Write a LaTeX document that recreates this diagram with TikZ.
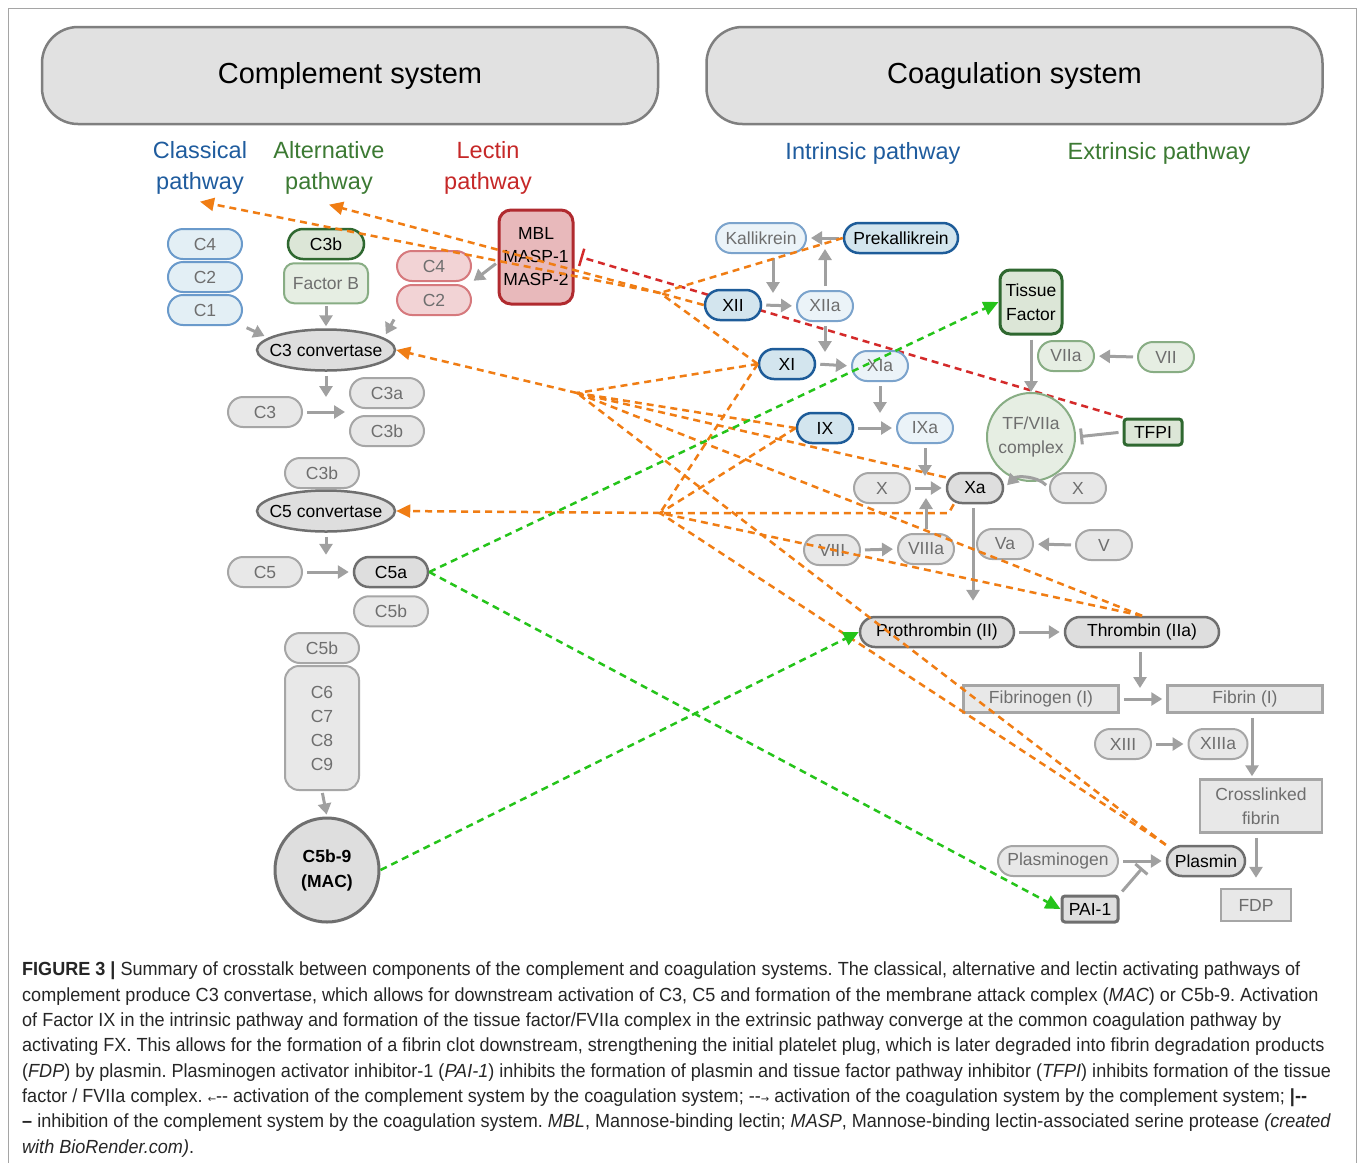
\documentclass[tikz,border=0pt]{standalone}
\usepackage{fontspec}
\setmainfont{Liberation Sans}
\newfontfamily\capfont[FakeStretch=0.95]{Liberation Sans}
\newfontfamily\arrowfont{DejaVu Sans}
\usetikzlibrary{positioning, calc, arrows.meta, backgrounds, shapes.geometric}

\definecolor{grayfill}{HTML}{E8E8E8}
\definecolor{grayline}{HTML}{A6A6A6}
\definecolor{graytext}{HTML}{6E6E6E}
\definecolor{darkfill}{HTML}{DEDEDE}
\definecolor{darkline}{HTML}{6F6F6F}
\definecolor{classfill}{HTML}{E3EFF5}
\definecolor{classline}{HTML}{6A9ACB}
\definecolor{intfill}{HTML}{D3E5EE}
\definecolor{intline}{HTML}{1E5C99}
\definecolor{intlfill}{HTML}{EBF3F8}
\definecolor{intlline}{HTML}{7BA3CC}
\definecolor{altfill}{HTML}{DCE6D7}
\definecolor{altline}{HTML}{2F6830}
\definecolor{altlfill}{HTML}{E6EEE3}
\definecolor{altlline}{HTML}{88AD84}
\definecolor{lectfill}{HTML}{F2D3D5}
\definecolor{lectline}{HTML}{D6797D}
\definecolor{mblfill}{HTML}{E8B9BB}
\definecolor{mblline}{HTML}{B02A2F}
\definecolor{headfill}{HTML}{E1E1E1}
\definecolor{headline}{HTML}{7F7F7F}
\definecolor{orangec}{HTML}{F07D14}
\definecolor{redc}{HTML}{D42A2A}
\definecolor{greenc}{HTML}{25C41A}
\definecolor{arrowgray}{HTML}{A0A0A0}
\definecolor{classblue}{HTML}{1F5C9E}
\definecolor{altgreen}{HTML}{3C7A33}
\definecolor{lectred}{HTML}{C62828}

\newcommand{\boxfont}{\fontsize{17.5}{23}\selectfont}
\newcommand{\headfont}{\fontsize{29}{34}\selectfont}
\newcommand{\pathfont}{\fontsize{23.5}{31}\selectfont}
\newcommand{\capsize}{\capfont\fontsize{19}{25.3}\selectfont\frenchspacing}
\newcommand{\smallarrow}[1]{{\arrowfont\fontsize{10}{10}\selectfont #1}}

\tikzset{pill/.style={draw, rounded corners=15pt, minimum width=74pt, minimum height=30pt, line width=2pt, inner sep=0pt, font=\boxfont, align=center},
graynode/.style={pill, fill=grayfill, draw=grayline, text=graytext},
darknode/.style={pill, fill=darkfill, draw=darkline, text=black, line width=2.5pt},
short/.style={minimum width=56pt},
classnode/.style={pill, fill=classfill, draw=classline, text=graytext},
intdark/.style={pill, short, fill=intfill, draw=intline, text=black, line width=2.5pt},
intlight/.style={pill, short, fill=intlfill, draw=intlline, text=graytext},
altdark/.style={pill, fill=altfill, draw=altline, text=black, line width=2.5pt},
altlight/.style={pill, short, fill=altlfill, draw=altlline, text=graytext},
lectnode/.style={pill, fill=lectfill, draw=lectline, text=graytext},
convnode/.style={ellipse, draw=darkline, fill=darkfill, line width=2.5pt, minimum width=138pt, minimum height=41pt, inner xsep=-13pt, inner ysep=0pt, font=\boxfont},
fibnode/.style={draw=grayline, fill=grayfill, text=graytext, line width=2.5pt, minimum width=155pt, minimum height=27pt, inner sep=0pt, font=\boxfont, align=center},
header/.style={draw=headline, fill=headfill, line width=2.5pt, rounded corners=36pt, minimum width=616pt, minimum height=97pt, font=\headfont},
pathlabel/.style={font=\pathfont, align=center, inner sep=2pt},
arr/.style={draw=arrowgray, line width=3pt, -{Triangle[length=11pt,width=13pt]}, shorten <=4pt, shorten >=4pt},
grayinhib/.style={draw=arrowgray, line width=3pt, -{Bar[width=16pt,line width=3pt]}, shorten <=4pt, shorten >=4pt},
orangeline/.style={draw=orangec, line width=2.5pt, dash pattern=on 7pt off 5pt},
orangearrow/.style={orangeline, -{Triangle[length=14pt,width=13pt,fill=orangec]}},
greenarrow/.style={draw=greenc, line width=2.5pt, dash pattern=on 7pt off 5pt, -{Triangle[length=15pt,width=14pt,fill=greenc]}},
redinhib/.style={draw=redc, line width=2.5pt, dash pattern=on 7pt off 5pt, -{Bar[width=18pt,line width=2.5pt]}}
}

\begin{document}
\begin{tikzpicture}[x=1pt,y=-1pt]
\begin{pgfonlayer}{background}
\fill[white] (0,0) rectangle (1358,1163);
\end{pgfonlayer}
\useasboundingbox (0,0) rectangle (1358,1163);
\draw[headline!70, line width=1pt] (8,1163) |- (1356,8) -- (1356,1163);

% headers
\node[header] (compsys) at (350,75.5) {Complement system};
\node[header] (coagsys) at (1014.5,75.5) {Coagulation system};
\node[pathlabel, text=classblue] (classical) at (200,168) {Classical\\pathway};
\node[pathlabel, text=altgreen] (alternative) at (329,168) {Alternative\\pathway};
\node[pathlabel, text=lectred] (lectin) at (488,168) {Lectin\\pathway};
\node[pathlabel, text=classblue] (intrinsic) at (873,153) {Intrinsic pathway};
\node[pathlabel, text=altgreen] (extrinsic) at (1159,153) {Extrinsic pathway};

% complement side
\node[classnode] (cc4) at (205,244) {C4};
\node[classnode, below=1pt of cc4] (cc2) {C2};
\node[classnode, below=1pt of cc2] (cc1) {C1};
\node[altdark, minimum width=76pt] (ac3b) at (326,244) {C3b};
\node[altlight, below=2pt of ac3b, minimum width=84pt, minimum height=40pt, rounded corners=10pt] (afb) {Factor B};
\node[lectnode] (lc4) at (434,266) {C4};
\node[lectnode, below=2pt of lc4] (lc2) {C2};
\node[pill, fill=mblfill, draw=mblline, line width=3pt, minimum width=74pt, minimum height=94pt, rounded corners=12pt] (mbl) at (536,257) {MBL\\MASP-1\\MASP-2};
\node[convnode] (c3conv) at (326,350) {C3 convertase};
\node[graynode] (c3) at (265,412) {C3};
\node[graynode] (c3a) at (387,393) {C3a};
\node[graynode, below=6pt of c3a] (c3b) {C3b};
\node[graynode] (c3bb) at (322,473) {C3b};
\node[convnode] (c5conv) at (326,511) {C5 convertase};
\node[graynode] (c5) at (265,572) {C5};
\node[darknode] (c5a) at (391,572) {C5a};
\node[graynode, below=7pt of c5a] (c5b) {C5b};
\node[graynode] (c5bb) at (322,648) {C5b};
\node[graynode, below=1pt of c5bb, minimum height=124pt, rounded corners=14pt, font=\fontsize{17.5}{24}\selectfont] (c69) {C6\\C7\\C8\\C9};
\node[circle, draw=darkline, fill=darkfill, line width=3pt, minimum size=104pt, inner sep=0pt, align=center, font=\fontsize{17.5}{25}\selectfont\bfseries] (mac) at (327,870) {C5b-9\\(MAC)};

% coagulation side
\node[intlight, minimum width=90pt] (kal) at (761,238) {Kallikrein};
\node[intdark, minimum width=114pt] (prekal) at (901,238) {Prekallikrein};
\node[intdark] (xii) at (733,305) {XII};
\node[intlight] (xiia) at (825,306) {XIIa};
\node[intdark] (xi) at (787,364) {XI};
\node[intlight] (xia) at (880,366) {XIa};
\node[intdark] (ix) at (825,428) {IX};
\node[intlight] (ixa) at (925,428) {IXa};
\node[graynode, short] (x) at (882,488) {X};
\node[darknode, short] (xa) at (975,488) {Xa};
\node[graynode, short] (xr) at (1078,488) {X};
\node[graynode, short] (viii) at (832,550) {VIII};
\node[graynode, short] (viiia) at (926,549) {VIIIa};
\node[graynode, short] (va) at (1005,544) {Va};
\node[graynode, short] (v) at (1104,545) {V};
\node[darknode, minimum width=154pt] (proth) at (937,632) {Prothrombin (II)};
\node[darknode, minimum width=154pt] (thromb) at (1142,632) {Thrombin (IIa)};
\node[fibnode] (fibrinogen) at (1041,699) {Fibrinogen (I)};
\node[fibnode] (fibrin) at (1245,699) {Fibrin (I)};
\node[graynode, short] (xiii) at (1123,744) {XIII};
\node[graynode, short, minimum width=59pt] (xiiia) at (1218,744) {XIIIa};
\node[fibnode, minimum width=122pt, minimum height=53pt, font=\fontsize{17.5}{24}\selectfont] (xlink) at (1261,806) {Crosslinked\\fibrin};
\node[graynode, minimum width=120pt] (plasminogen) at (1058,861) {Plasminogen};
\node[darknode, minimum width=78pt] (plasmin) at (1206,861) {Plasmin};
\node[darknode, short, minimum height=26pt, rounded corners=3pt, line width=3pt] (pai) at (1090,909) {PAI-1};
\node[fibnode, minimum width=70pt, minimum height=32pt] (fdp) at (1256,905) {FDP};
\node[altdark, minimum width=62pt, minimum height=64pt, rounded corners=10pt, line width=3pt, font=\fontsize{17.5}{24}\selectfont] (tf) at (1031,302) {Tissue\\Factor};
\node[altlight] (viia) at (1066,356) {VIIa};
\node[altlight] (vii) at (1166,357) {VII};
\node[circle, draw=altlline, fill=altlfill, line width=2pt, text=graytext, minimum size=88pt, inner sep=0pt, align=center, font=\fontsize{17.5}{24}\selectfont] (tfvii) at (1031,437) {TF/VIIa\\complex};
\node[altdark, minimum width=58pt, minimum height=26pt, rounded corners=3pt, line width=3pt] (tfpi) at (1153,432) {TFPI};

% caption
\node[anchor=north west, inner sep=0pt, align=left, font=\capsize, text=black!85] (caption) at (22,962) {%
{\bfseries FIGURE 3 |} Summary of crosstalk between components of the complement and coagulation systems. The classical, alternative and lectin activating pathways of\\
complement produce C3 convertase, which allows for downstream activation of C3, C5 and formation of the membrane attack complex (\textit{MAC}) or C5b-9. Activation\\
of Factor IX in the intrinsic pathway and formation of the tissue factor/FVIIa complex in the extrinsic pathway converge at the common coagulation pathway by\\
activating FX. This allows for the formation of a fibrin clot downstream, strengthening the initial platelet plug, which is later degraded into fibrin degradation products\\
(\textit{FDP}) by plasmin. Plasminogen activator inhibitor-1 (\textit{PAI-1}) inhibits the formation of plasmin and tissue factor pathway inhibitor (\textit{TFPI}) inhibits formation of the tissue\\
factor / FVIIa complex. \smallarrow{←}-{}- activation of the complement system by the coagulation system; -{}-\smallarrow{→} activation of the coagulation system by the complement system; {\bfseries |-{}-}\\
{\bfseries –} inhibition of the complement system by the coagulation system. \textit{MBL}, Mannose-binding lectin; \textit{MASP}, Mannose-binding lectin-associated serine protease \textit{(created}\\
\textit{with BioRender.com)}.};

% red inhibition behind the nodes
\begin{pgfonlayer}{background}
\draw[redinhib] (tfpi.north west) -- ([xshift=6pt]mbl.east);
\end{pgfonlayer}

% complement arrows
\draw[arr] (cc1.south east) -- (c3conv.168);
\draw[arr, shorten <=2pt, shorten >=2pt] (afb.south) -- (c3conv.north);
\draw[arr] (lc2.south west) -- (c3conv.12);
\draw[arr, shorten <=2pt, shorten >=2pt] (mbl.188) -- (lc4.south east);
\draw[arr, shorten >=12pt] (c3conv.south) -- (c3conv.south |- c3a.south);
\draw[arr] (c3.east) -- (c3.east -| c3a.west);
\draw[arr, shorten >=1pt] (c5conv.south) -- (c5conv.south |- c5a.north);
\draw[arr] (c5.east) -- (c5a.west);
\draw[arr, shorten <=2pt, shorten >=2pt] (c69.south) -- (mac.north);

% coagulation arrows
\draw[arr] (prekal.west) -- (kal.east);
\draw[arr, shorten >=12pt] ([xshift=12pt]kal.south) -- ([xshift=12pt]kal.south |- xii.east);
\draw[arr] (xii.east) -- (xiia.west);
\draw[arr, shorten >=11pt] (xiia.north) -- (xiia.north |- prekal.west);
\draw[arr, shorten >=12pt] (xiia.south) -- (xiia.south |- xi.east);
\draw[arr] (xi.east) -- (xia.west);
\draw[arr, shorten >=15pt] (xia.south) -- (xia.south |- ix.east);
\draw[arr] (ix.east) -- (ixa.west);
\draw[arr, shorten >=12pt] (ixa.south) -- (ixa.south |- x.east);
\draw[arr] (x.east) -- (xa.west);
\draw[arr] (xr.west) to[bend right=45] (xa.east);
\draw[arr] (viii.east) -- (viiia.west);
\draw[arr, shorten >=10pt] (viiia.north) -- (viiia.north |- x.east);
\draw[arr, shorten >=15pt] ([xshift=-2pt]xa.south) -- ([xshift=-2pt]xa.south |- proth.north);
\draw[arr] (v.west) -- (va.east);
\draw[arr] (proth.east) -- (thromb.west);
\draw[arr, shorten >=11pt] ([xshift=-2pt]thromb.south) -- ([xshift=-2pt]thromb.south |- fibrin.west);
\draw[arr] (fibrinogen.east) -- (fibrin.west);
\draw[arr, shorten >=2pt] ([xshift=7pt]fibrin.south) -- ([xshift=7pt]fibrin.south |- xlink.north);
\draw[arr] (xiii.east) -- (xiiia.west);
\draw[arr, shorten >=10pt] (xlink.south -| fdp.north) -- (fdp.north);
\draw[arr] (plasminogen.east) -- (plasmin.west);
\draw[grayinhib, shorten >=0pt] (pai.north east) -- ($(plasminogen.east)!0.5!(plasmin.west)+(0,7)$);
\draw[arr, shorten >=0pt] (tf.south) -- (tfvii.north);
\draw[arr] (vii.west) -- (viia.east);
\draw[grayinhib] (tfpi.west) -- (tfvii.east);

% crosstalk: coagulation to complement
\coordinate (ja) at (660,293);
\coordinate (jb) at (577,393);
\coordinate (jc) at (660,513);
\draw[orangeline] (prekal.west) -- (ja);
\draw[orangeline] (xii.west) -- (ja);
\draw[orangeline] (xi.west) -- (ja);
\draw[orangearrow] (ja) -- ([yshift=-5pt]classical.south);
\draw[orangearrow] (ja) -- ([yshift=-8pt]alternative.south);
\draw[orangeline] (xi.west) -- (jb);
\draw[orangeline] (ix.west) -- (jb);
\draw[orangeline] (xa.160) -- (jb);
\draw[orangeline] (thromb.north) -- (jb);
\draw[orangeline] (plasmin.north west) -- (jb);
\draw[orangearrow] (jb) -- (c3conv.east);
\draw[orangeline] (xi.west) -- (jc);
\draw[orangeline] (ix.west) -- (jc);
\draw[orangeline] ([xshift=8pt]xa.south west) -- ([xshift=3pt]jc -| xa.west) -- (jc);
\draw[orangeline] (thromb.north) -- (jc);
\draw[orangeline] (plasmin.north west) -- (jc);
\draw[orangearrow] (jc) -- (c5conv.east);

% crosstalk: complement to coagulation
\draw[greenarrow] (c5a.east) -- (tf.west);
\draw[greenarrow] (c5a.east) -- (pai.west);
\draw[greenarrow] (mac.east) -- (proth.west);
\end{tikzpicture}
\end{document}
